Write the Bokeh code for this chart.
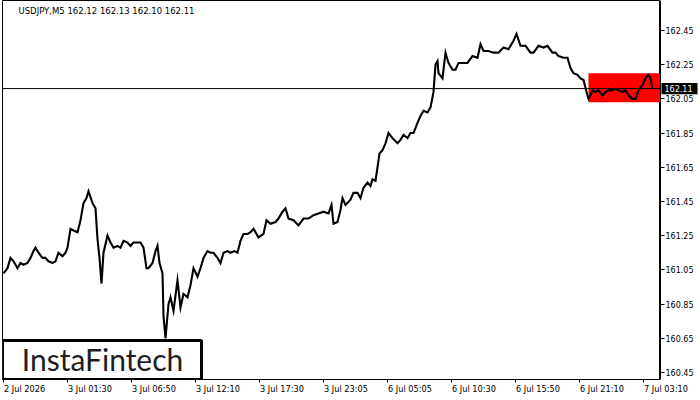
from bokeh.plotting import figure
from bokeh.layouts import column, row
from bokeh.models import Range1d, FixedTicker, Span, ColumnDataSource, CustomJSTickFormatter
from bokeh.embed import file_html
from bokeh.resources import INLINE
from bokeh.core.properties import value

# ---- data (M5 bars, index = bar number from the first bar) ----
bar_index = [
    0, 4, 7, 10, 14, 17, 20, 24, 27, 30,
    32, 35, 39, 42, 45, 49, 52, 55, 59, 62,
    64, 67, 70, 74, 77, 80, 83, 85, 89, 92,
    94, 96, 98, 100, 104, 107, 110, 114, 117, 120,
    124, 127, 130, 134, 137, 140, 143, 145, 149, 152,
    154, 156, 159, 160, 162, 165, 167, 170, 174, 177,
    180, 184, 187, 190, 194, 197, 200, 204, 207, 210,
    214, 217, 220, 224, 227, 231, 234, 237, 240, 244,
    247, 250, 255, 260, 263, 267, 272, 275, 279, 282,
    285, 290, 295, 300, 305, 310, 315, 320, 325, 328,
    330, 334, 337, 339, 342, 347, 350, 354, 357, 360,
    364, 367, 369, 372, 374, 376, 379, 382, 385, 389,
    394, 397, 400, 404, 407, 410, 414, 417, 420, 424,
    427, 430, 432, 434, 435, 439, 442, 445, 449, 452,
    455, 459, 464, 469, 474, 477, 480, 485, 490, 495,
    500, 505, 510, 513, 517, 522, 527, 530, 535, 540,
    544, 549, 552, 555, 560, 564, 567, 570, 574, 577,
    580, 584, 585, 589, 592, 595, 599, 602, 605, 609,
    612, 615, 619, 622, 625, 629, 632, 635, 639, 642,
    645, 647, 649,
]
close = [
    161.03, 161.06, 161.12, 161.10, 161.06, 161.09, 161.08, 161.09, 161.12, 161.16,
    161.18, 161.15, 161.12, 161.12, 161.10, 161.09, 161.10, 161.15, 161.13, 161.15,
    161.18, 161.29, 161.28, 161.27, 161.34, 161.44, 161.47, 161.51, 161.44, 161.41,
    161.23, 161.12, 160.97, 161.15, 161.25, 161.21, 161.18, 161.19, 161.18, 161.22,
    161.21, 161.19, 161.21, 161.21, 161.21, 161.18, 161.06, 161.06, 161.09, 161.16,
    161.19, 161.09, 161.03, 160.78, 160.65, 160.85, 160.89, 160.81, 160.99, 160.83,
    160.91, 160.89, 160.96, 161.06, 161.01, 161.06, 161.12, 161.16, 161.15, 161.15,
    161.12, 161.09, 161.15, 161.16, 161.15, 161.16, 161.15, 161.22, 161.26, 161.26,
    161.27, 161.29, 161.24, 161.26, 161.34, 161.32, 161.33, 161.35, 161.39, 161.41,
    161.35, 161.34, 161.31, 161.35, 161.35, 161.37, 161.38, 161.39, 161.38, 161.43,
    161.32, 161.33, 161.40, 161.47, 161.43, 161.46, 161.50, 161.50, 161.47, 161.53,
    161.56, 161.54, 161.58, 161.57, 161.65, 161.73, 161.75, 161.79, 161.85, 161.82,
    161.79, 161.81, 161.84, 161.82, 161.85, 161.85, 161.91, 161.95, 161.98, 161.97,
    162.00, 162.09, 162.25, 162.27, 162.20, 162.17, 162.32, 162.26, 162.22, 162.22,
    162.26, 162.26, 162.26, 162.30, 162.29, 162.37, 162.33, 162.33, 162.32, 162.32,
    162.35, 162.34, 162.39, 162.43, 162.36, 162.36, 162.32, 162.32, 162.36, 162.35,
    162.36, 162.32, 162.32, 162.30, 162.29, 162.29, 162.23, 162.20, 162.19, 162.17,
    162.16, 162.07, 162.05, 162.10, 162.09, 162.10, 162.07, 162.09, 162.10, 162.10,
    162.11, 162.10, 162.09, 162.10, 162.07, 162.05, 162.05, 162.10, 162.13, 162.17,
    162.19, 162.17, 162.11,
]

time_tick_bars = [0, 64, 128, 192, 256, 320, 384, 448, 512, 576, 640]
time_tick_labels = ["2 Jul 2026", "3 Jul 01:30", "3 Jul 06:50", "3 Jul 12:10",
                    "3 Jul 17:30", "3 Jul 23:05", "6 Jul 05:05", "6 Jul 10:30",
                    "6 Jul 15:50", "6 Jul 21:10", "7 Jul 03:10"]
price_ticks = [160.45, 160.65, 160.85, 161.05, 161.25, 161.45, 161.65, 161.85, 162.05, 162.25, 162.45]

header_text = "USDJPY,M5  162.12 162.13 162.10 162.11"
current_price = 162.11
zone_start_bar = 585
zone_top = 162.20
zone_bottom = 162.03
brand = "InstaFintech"

assert len(bar_index) == len(close)

FONT = "DejaVu Sans"
X0, X1 = -1, 657            # bars spanned by the chart frame (1 px per bar)
Y0, Y1 = 160.409, 162.625   # prices spanned by the chart frame
yr = Range1d(Y0, Y1)

CH_H = 383   # chart height (frame + tick marks)
AX_W = 40    # price-scale column width
LB_H = 17    # time label strip height

# ---------- main chart ----------
p = figure(width=660, height=CH_H, output_backend="svg", toolbar_location=None,
           x_range=Range1d(X0, X1), y_range=yr, y_axis_location=None,
           min_border_left=2, min_border_right=0, min_border_top=0, min_border_bottom=4)
p.background_fill_color = "white"
p.border_fill_color = "white"
p.outline_line_color = "black"
p.xgrid.visible = False
p.ygrid.visible = False

xa = p.xaxis[0]
xa.ticker = FixedTicker(ticks=time_tick_bars)
xa.major_label_overrides = {b: "" for b in time_tick_bars}
xa.major_label_text_font_size = "0px"
xa.major_label_standoff = 0
xa.major_tick_in = 0
xa.major_tick_out = 3
xa.minor_tick_out = 0
xa.minor_tick_in = 0
xa.axis_line_color = "black"

p.quad(left=[zone_start_bar], right=[X1], bottom=[zone_bottom], top=[zone_top],
       fill_color="#ff0000", line_color=None)
p.add_layout(Span(location=current_price, dimension="width", line_color="black", line_width=1))

src = ColumnDataSource(dict(x=bar_index, y=close))
p.line("x", "y", source=src, line_color="black", line_width=2.1, line_join="miter")

p.quad(left=[X0], right=[198], bottom=[Y0], top=[160.637],
       fill_color="white", line_color="black", line_width=3)
p.text(x=[99], y=[160.528], text=[brand], text_align="center", text_baseline="middle",
       text_font=value("Lato"), text_font_size="30px", text_color="#1e1e1e")

p.text(x=[15], y=[162.561], text=[header_text], text_align="left", text_baseline="middle",
       text_font=value(FONT), text_font_size="8.5px", text_color="black")

# ---------- price scale column ----------
s = figure(width=AX_W, height=CH_H, output_backend="svg", toolbar_location=None,
           x_range=Range1d(0, AX_W), y_range=yr, x_axis_location=None, y_axis_location="left",
           min_border_left=0, min_border_right=0, min_border_top=0, min_border_bottom=4)
s.background_fill_color = "white"
s.border_fill_color = "white"
s.outline_line_color = None
s.xgrid.visible = False
s.ygrid.visible = False
ya = s.yaxis[0]
ya.ticker = FixedTicker(ticks=price_ticks)
ya.formatter = CustomJSTickFormatter(code="return tick.toFixed(2);")
ya.major_tick_in = 4
ya.major_tick_out = 0
ya.minor_tick_in = 0
ya.minor_tick_out = 0
ya.major_label_standoff = -33
ya.major_label_text_font = FONT
ya.major_label_text_font_size = "8px"
ya.major_label_text_color = "black"
ya.axis_line_color = "black"

tag_half = 0.033
s.quad(left=[1], right=[37], bottom=[current_price - tag_half], top=[current_price + tag_half],
       fill_color="black", line_color=None, level="overlay")
s.text(x=[4], y=[current_price], text=["162.11"], text_align="left", text_baseline="middle",
       text_font=value(FONT), text_font_size="8px", text_color="white", level="overlay")

# ---------- time labels strip ----------
t = figure(width=660 + AX_W, height=LB_H, output_backend="svg", toolbar_location=None,
           x_range=Range1d(X0 - 2, X0 - 2 + 660 + AX_W), y_range=Range1d(LB_H, 0),
           x_axis_location=None, y_axis_location=None,
           min_border_left=0, min_border_right=0, min_border_top=0, min_border_bottom=0)
t.background_fill_color = "white"
t.border_fill_color = "white"
t.outline_line_color = None
t.xgrid.visible = False
t.ygrid.visible = False
t.text(x=[b + 0.5 for b in time_tick_bars], y=[5] * len(time_tick_bars), text=time_tick_labels,
       text_align="left", text_baseline="middle", text_font=value(FONT),
       text_font_size="8.2px", text_color="black")

layout = column(row(p, s, spacing=0), t, spacing=0)
open("out.html", "w").write(file_html(layout, INLINE))
